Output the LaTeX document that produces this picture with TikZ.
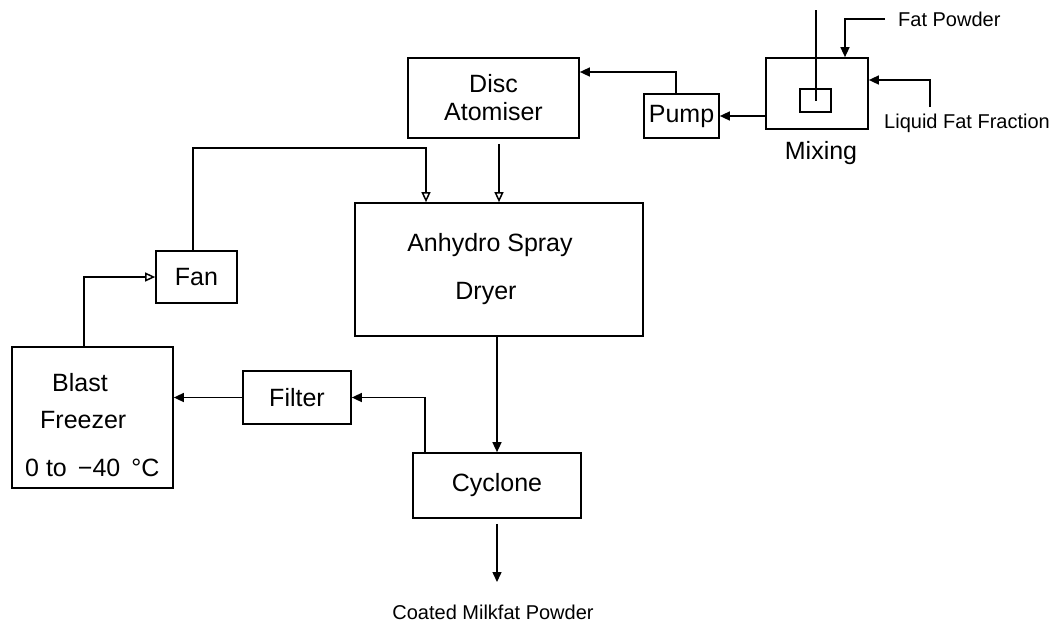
\documentclass[tikz,border=0pt]{standalone}
\usepackage{fontspec}
\setmainfont{Liberation Sans}
\usetikzlibrary{arrows.meta,calc}
\begin{document}
\begin{tikzpicture}[x=1pt,y=-1pt,
  box/.style={draw,line width=1.7pt,inner sep=0pt,font=\fontsize{25}{30}\selectfont},
  lbl/.style={inner sep=0pt,font=\fontsize{25}{30}\selectfont},
  small/.style={inner sep=0pt,font=\fontsize{20}{24}\selectfont},
  conn/.style={line width=1.5pt},
  arr/.style={conn,-{Triangle[length=10pt,width=9pt]}},
  oarr/.style={conn,-{Triangle[open,length=10pt,width=9pt]}}]
\useasboundingbox (0,0) rectangle (1061,624);
% boxes
\node[box,minimum width=171pt,minimum height=80pt,align=center] (disc) at (493.5,98) {Disc\\[-2pt]Atomiser};
\node[box,minimum width=75pt,minimum height=44pt] (pump) at (681.5,116) {Pump};
\node[box,minimum width=102pt,minimum height=71pt] (mix) at (817,93.5) {};
\node[box,minimum width=31pt,minimum height=23pt] (inner) at (815.5,100.5) {};
\node[box,minimum width=288pt,minimum height=133pt] (spray) at (499,269.5) {};
\node[box,minimum width=81pt,minimum height=52pt] (fan) at (196.5,277) {Fan};
\node[box,minimum width=161pt,minimum height=141pt] (blast) at (92.5,417.5) {};
\node[box,minimum width=108pt,minimum height=53pt] (filter) at (297,397.5) {Filter};
\node[box,minimum width=168pt,minimum height=65pt] (cyclone) at (497,485.5) {Cyclone};
% texts
\node[lbl] (t1) at (490,245) {Anhydro Spray};
\node[lbl] (t2) at (486,293) {Dryer};
\node[lbl,anchor=west] (b1) at (52,383) {Blast};
\node[lbl,anchor=west] (b2) at (40,420) {Freezer};
\node[lbl,anchor=west] (b3) at (25,468) {0 to {\,}−40 {\,}°C};
\node[lbl] (mixl) at (821,153) {Mixing};
\node[small,anchor=west] (fpl) at (898,19) {Fat Powder};
\node[small,anchor=west] (lfl) at (884,123) {Liquid Fat Fraction};
\node[small] (outl) at (493,612) {Coated Milkfat Powder};
% free ends
\coordinate (fp) at (885,19);
\coordinate (lf) at (930,107);
\coordinate (stir) at (816,10);
\coordinate (outtip) at (497,582);
% connectors
\draw[conn] (stir) -- (stir |- inner.center);
\draw[arr] (fp) -| ([xshift=28pt]mix.north);
\draw[arr] (lf) |- ([yshift=13.5pt]mix.east);
\draw[arr] (mix.west |- pump.east) -- (pump.east);
\draw[arr] ([xshift=-5.5pt]pump.north) |- ([yshift=26pt]disc.east);
\draw[oarr] ([yshift=-5pt]disc.south -| spray.north) -- (spray.north);
\draw[oarr] ([xshift=-3.5pt]fan.north) |- ([xshift=-73pt,yshift=54pt]spray.north) -- ([xshift=-73pt]spray.north);
\draw[oarr] ([xshift=-8.5pt]blast.north) |- (fan.west);
\draw[arr] ([xshift=-72pt]cyclone.north) |- (filter.east);
\draw[arr] (filter.west) -- (blast.east |- filter.west);
\draw[arr] (spray.south -| cyclone.north) -- (cyclone.north);
\draw[arr] ([yshift=-5pt]cyclone.south) -- (outtip);
\end{tikzpicture}
\end{document}
